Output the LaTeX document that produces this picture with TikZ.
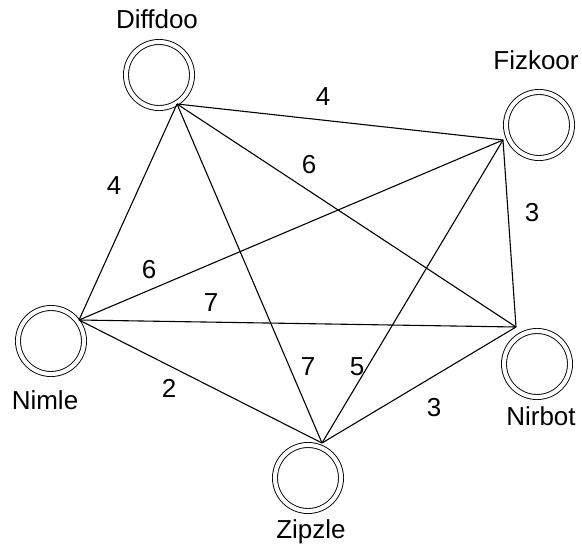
\documentclass[tikz,border=0pt]{standalone}
\usepackage{fontspec}
\setmainfont{Liberation Sans}

\begin{document}
\begin{tikzpicture}[x=1pt,y=-1pt,
    state/.style={circle,draw,double,double distance=4.1pt,line width=0.9pt,minimum size=66pt,inner sep=0pt},
    link/.style={line width=1.1pt},
    txt/.style={font=\fontsize{26}{31}\selectfont}]
\useasboundingbox (0,0) rectangle (582,550);

% States
\node[state] (diffdoo) at (159,75) {};
\node[state] (fizkoor) at (539,125) {};
\node[state] (nimle) at (51,341) {};
\node[state] (nirbot) at (537,364) {};
\node[state] (zipzle) at (308,478) {};

\node[txt] (diffdoo-name) at (157,19) {Diffdoo};
\node[txt] (fizkoor-name) at (536,60) {Fizkoor};
\node[txt] (nimle-name) at (45,400) {Nimle};
\node[txt] (nirbot-name) at (541,416) {Nirbot};
\node[txt] (zipzle-name) at (311,532) {Zipzle};

% Where the links meet each state
\coordinate (diffdoo-p) at (177,104);
\coordinate (fizkoor-p) at (503,140);
\coordinate (nimle-p) at (79,320);
\coordinate (nirbot-p) at (516,327);
\coordinate (zipzle-p) at (322,443);

% Links
\foreach \a/\b in {diffdoo/fizkoor,diffdoo/nirbot,diffdoo/nimle,diffdoo/zipzle,
                   fizkoor/nimle,fizkoor/nirbot,fizkoor/zipzle,
                   nimle/nirbot,nimle/zipzle,nirbot/zipzle} {
    \draw[link] (\a-p) -- (\b-p);
}

% Weights
\foreach \w/\x/\y/\n in {4/323/97/w-df,6/309/165/w-dn,4/114/186/w-dm,
                         3/532/213/w-fn,6/149/270/w-fm,7/211/303/w-mn,
                         7/308/367/w-dz,5/357/367/w-fz,2/169/388/w-mz,
                         3/434/408/w-nz} {
    \node[txt] (\n) at (\x,\y) {\w};
}

\end{tikzpicture}
\end{document}
